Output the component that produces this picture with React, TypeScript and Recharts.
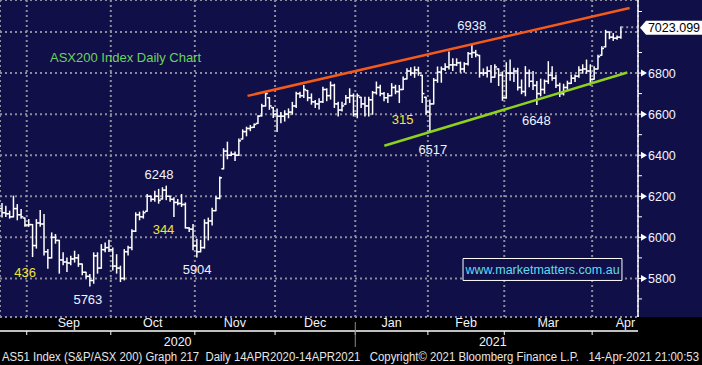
import React from 'react'
import {
  ComposedChart,
  Bar,
  XAxis,
  YAxis,
  CartesianGrid,
  ReferenceLine,
  ReferenceDot,
  ReferenceArea,
} from 'recharts'

// ASX200 daily bars, 21 Aug 2020 - 14 Apr 2021
const dates = [
  '2020-08-21', '2020-08-24', '2020-08-25', '2020-08-26', '2020-08-27', '2020-08-28', '2020-08-31',
  '2020-09-01', '2020-09-02', '2020-09-03', '2020-09-04', '2020-09-07', '2020-09-08', '2020-09-09', '2020-09-10', '2020-09-11',
  '2020-09-14', '2020-09-15', '2020-09-16', '2020-09-17', '2020-09-18', '2020-09-21', '2020-09-22', '2020-09-23', '2020-09-24',
  '2020-09-25', '2020-09-28', '2020-09-29', '2020-09-30',
  '2020-10-01', '2020-10-02', '2020-10-05', '2020-10-06', '2020-10-07', '2020-10-08', '2020-10-09', '2020-10-12', '2020-10-13',
  '2020-10-14', '2020-10-15', '2020-10-16', '2020-10-19', '2020-10-20', '2020-10-21', '2020-10-22', '2020-10-23', '2020-10-26',
  '2020-10-27', '2020-10-28', '2020-10-29', '2020-10-30',
  '2020-11-02', '2020-11-03', '2020-11-04', '2020-11-05', '2020-11-06', '2020-11-09', '2020-11-10', '2020-11-11', '2020-11-12',
  '2020-11-13', '2020-11-16', '2020-11-17', '2020-11-18', '2020-11-19', '2020-11-20', '2020-11-23', '2020-11-24', '2020-11-25',
  '2020-11-26', '2020-11-27', '2020-11-30',
  '2020-12-01', '2020-12-02', '2020-12-03', '2020-12-04', '2020-12-07', '2020-12-08', '2020-12-09', '2020-12-10', '2020-12-11',
  '2020-12-14', '2020-12-15', '2020-12-16', '2020-12-17', '2020-12-18', '2020-12-21', '2020-12-22', '2020-12-23', '2020-12-24',
  '2020-12-29', '2020-12-30', '2020-12-31',
  '2021-01-04', '2021-01-05', '2021-01-06', '2021-01-07', '2021-01-08', '2021-01-11', '2021-01-12', '2021-01-13', '2021-01-14',
  '2021-01-15', '2021-01-18', '2021-01-19', '2021-01-20', '2021-01-21', '2021-01-22', '2021-01-25', '2021-01-27', '2021-01-28',
  '2021-01-29',
  '2021-02-01', '2021-02-02', '2021-02-03', '2021-02-04', '2021-02-05', '2021-02-08', '2021-02-09', '2021-02-10', '2021-02-11',
  '2021-02-12', '2021-02-15', '2021-02-16', '2021-02-17', '2021-02-18', '2021-02-19', '2021-02-22', '2021-02-23', '2021-02-24',
  '2021-02-25', '2021-02-26',
  '2021-03-01', '2021-03-02', '2021-03-03', '2021-03-04', '2021-03-05', '2021-03-08', '2021-03-09', '2021-03-10', '2021-03-11',
  '2021-03-12', '2021-03-15', '2021-03-16', '2021-03-17', '2021-03-18', '2021-03-19', '2021-03-22', '2021-03-23', '2021-03-24',
  '2021-03-25', '2021-03-26', '2021-03-29', '2021-03-30', '2021-03-31',
  '2021-04-01', '2021-04-06', '2021-04-07', '2021-04-08', '2021-04-09', '2021-04-12', '2021-04-13', '2021-04-14',
]

const opens = [
  6140, 6120, 6115, 6100, 6140, 6110, 6094, 6060, 6062, 5960, 6070, 6065, 5930, 5900, 6000, 5985, 5890, 5880, 5875, 5895,
  5900, 5870, 5830, 5810, 5790, 5910, 5850, 5940, 5950,
  5940, 5860, 5850, 5800, 5930, 5950, 6030, 6110, 6100, 6127, 6200, 6185, 6200, 6187, 6230, 6200, 6185, 6170, 6165, 6160,
  6046, 6040,
  5960, 5930, 5950, 6070, 6080, 6130, 6190, 6334, 6420, 6400, 6405, 6400, 6479, 6515, 6530, 6536, 6555, 6592, 6640, 6680, 6632,
  6600, 6590, 6590, 6600, 6610, 6640, 6700, 6690, 6715, 6680, 6660, 6650, 6660, 6720, 6690, 6740, 6650, 6620, 6649, 6680, 6690,
  6600, 6682, 6650, 6640, 6670, 6705, 6730, 6700, 6680, 6690, 6730, 6710, 6720, 6772, 6810, 6800, 6815, 6789, 6682,
  6610, 6650, 6765, 6805, 6820, 6830, 6840, 6840, 6850, 6820, 6845, 6895, 6900, 6886, 6800, 6800, 6810, 6780, 6820, 6790,
  6680, 6800, 6800, 6810, 6730, 6710, 6800, 6760, 6740, 6700, 6720, 6760, 6790, 6775, 6740, 6700, 6730, 6750, 6775, 6785,
  6815, 6820, 6810,
  6770, 6820, 6887, 6928, 7000, 6975, 6970, 6975,
]

const highs = [
  6164, 6151, 6127, 6200, 6159, 6135, 6094, 6086, 6062, 6086, 6130, 6111, 5940, 6021, 6013, 5985, 5924, 5899, 5907, 5932,
  5915, 5870, 5830, 5818, 5924, 5924, 5964, 5972, 5985,
  5948, 5915, 5859, 5940, 5956, 6037, 6119, 6122, 6127, 6208, 6200, 6224, 6233, 6241, 6249, 6200, 6192, 6184, 6208, 6167,
  6046, 6062,
  5990, 5985, 6085, 6093, 6141, 6197, 6294, 6431, 6463, 6415, 6415, 6479, 6523, 6536, 6544, 6552, 6592, 6648, 6705, 6680, 6632,
  6625, 6608, 6616, 6625, 6657, 6706, 6706, 6739, 6715, 6698, 6666, 6674, 6731, 6723, 6756, 6745, 6657, 6657, 6690, 6723, 6698,
  6698, 6682, 6682, 6682, 6710, 6756, 6740, 6705, 6700, 6748, 6740, 6739, 6780, 6821, 6825, 6830, 6828, 6789, 6682,
  6668, 6773, 6829, 6829, 6845, 6902, 6869, 6869, 6853, 6850, 6900, 6938, 6910, 6886, 6820, 6829, 6837, 6840, 6820, 6805,
  6850, 6863, 6823, 6823, 6766, 6831, 6815, 6807, 6758, 6770, 6766, 6855, 6830, 6790, 6750, 6745, 6760, 6790, 6790, 6831,
  6840, 6863, 6840,
  6831, 6887, 6928, 7008, 7000, 6992, 6980, 7024,
]

const lows = [
  6099, 6102, 6094, 6100, 6086, 6094, 6054, 6054, 5907, 5948, 6054, 5915, 5850, 5900, 5972, 5826, 5867, 5834, 5867, 5880,
  5859, 5818, 5802, 5763, 5777, 5826, 5850, 5930, 5932,
  5842, 5826, 5785, 5793, 5915, 5940, 6029, 6086, 6094, 6127, 6176, 6176, 6167, 6187, 6184, 6176, 6102, 6159, 6151, 6046,
  6029, 5940,
  5905, 5930, 5948, 5988, 6061, 6130, 6189, 6334, 6383, 6399, 6375, 6399, 6479, 6495, 6520, 6536, 6555, 6592, 6640, 6624, 6584,
  6516, 6559, 6567, 6583, 6600, 6633, 6682, 6682, 6666, 6649, 6633, 6625, 6657, 6666, 6674, 6633, 6592, 6616, 6649, 6657, 6592,
  6583, 6633, 6592, 6592, 6600, 6698, 6690, 6666, 6657, 6690, 6700, 6657, 6720, 6772, 6790, 6780, 6790, 6657, 6600,
  6517, 6650, 6756, 6756, 6813, 6821, 6813, 6837, 6805, 6805, 6840, 6877, 6880, 6781, 6790, 6781, 6756, 6780, 6740, 6668,
  6678, 6766, 6760, 6718, 6700, 6690, 6734, 6720, 6648, 6690, 6702, 6750, 6766, 6730, 6686, 6694, 6720, 6750, 6760, 6780,
  6800, 6800, 6742,
  6770, 6820, 6887, 6928, 6968, 6960, 6965, 6970,
]

const closes = [
  6120, 6115, 6100, 6140, 6110, 6100, 6060, 6062, 5960, 6070, 6065, 5930, 5900, 6000, 5985, 5890, 5880, 5875, 5895, 5900,
  5870, 5830, 5810, 5790, 5910, 5850, 5940, 5950, 5940,
  5860, 5850, 5800, 5930, 5950, 6030, 6110, 6100, 6120, 6200, 6185, 6200, 6180, 6230, 6200, 6185, 6170, 6165, 6160, 6046,
  6040, 5960,
  5930, 5950, 6070, 6080, 6130, 6190, 6290, 6420, 6400, 6405, 6400, 6470, 6515, 6530, 6535, 6550, 6590, 6640, 6700, 6640, 6600,
  6590, 6590, 6600, 6610, 6640, 6700, 6690, 6720, 6680, 6660, 6650, 6660, 6720, 6690, 6740, 6650, 6620, 6640, 6680, 6690, 6600,
  6690, 6650, 6640, 6670, 6705, 6730, 6700, 6680, 6690, 6730, 6710, 6720, 6770, 6810, 6800, 6815, 6800, 6700, 6610,
  6650, 6765, 6805, 6820, 6830, 6840, 6840, 6850, 6820, 6845, 6895, 6900, 6890, 6800, 6800, 6810, 6780, 6830, 6790, 6680,
  6800, 6800, 6810, 6730, 6710, 6800, 6760, 6740, 6700, 6720, 6760, 6790, 6775, 6740, 6700, 6730, 6750, 6775, 6785, 6815,
  6820, 6810, 6770,
  6820, 6880, 6920, 7000, 6975, 6970, 6975, 7023.099,
]

const lastPrice = 7023.099
const emptySlots = 4 // blank days Bloomberg leaves right of the last bar

// x axis: month boundaries (bar index) and label centres
const monthStarts = [7, 29, 51, 72, 93, 112, 132, 155]
const monthNames = ['Sep', 'Oct', 'Nov', 'Dec', 'Jan', 'Feb', 'Mar', 'Apr']
const monthCentres = [18, 40, 61.5, 82.5, 102.5, 122, 143.5, 163.7]
const yearNames = ['2020', '2021']
const yearCentres = [46.5, 129]
const yearBreak = 93

const priceTicks = [5700, 5800, 5900, 6000, 6100, 6200, 6300, 6400, 6500, 6600, 6700, 6800, 6900, 7000, 7100]
const gridTicks = [5800, 6000, 6200, 6400, 6600, 6800, 7000]
const yDomain = [5612, 7156]

// hand-drawn annotations
const noteTexts = ['6938', '315', '6517', '6648', '6248', '344', '436', '5763', '5904']
const noteX = [123.5, 105.4, 113.3, 140.4, 41.6, 42.8, 6.6, 23.0, 51.6]
const noteY = [7034, 6576, 6426, 6569, 6305, 6038, 5829, 5698, 5843]
const noteColors = ['#eef3ff', '#f2e632', '#eef3ff', '#eef3ff', '#eef3ff', '#f2e632', '#f2e632', '#eef3ff', '#eef3ff']
const titleText = 'ASX200 Index Daily Chart'
const urlText = 'www.marketmatters.com.au'
const footerText =
  'AS51 Index (S&P/ASX 200) Graph 217  Daily 14APR2020-14APR2021   Copyright\u00a9 2021 Bloomberg Finance L.P.   14-Apr-2021 21:00:53'

const resistance = [
  { x: 64.8, y: 6689 },
  { x: 164.8, y: 7117 },
]
const support = [
  { x: 100.6, y: 6446 },
  { x: 164.2, y: 6803 },
]

const FONT = '"Liberation Sans", Arial, sans-serif'
const NAVY = '#100f47'
const TEXT = '#f2f4ff'
const GRID = '#8c8c9a'
const AXIS_W = 64
const SPAN = dates.length + emptySlots

const data = [
  ...dates.map((d, i) => ({ i, d, o: opens[i], h: highs[i], l: lows[i], c: closes[i] })),
  ...Array.from({ length: emptySlots }, (_, k) => ({ i: dates.length + k, d: '', o: null, h: null, l: null, c: null })),
]

const OhlcBar = (props: any) => {
  const { x, y, width, height, payload } = props
  if (!payload || payload.h == null) return <g />
  const span = payload.h - payload.l
  const at = (v: number) => (span > 0 ? y + ((payload.h - v) / span) * height : y)
  const cx = x + width / 2
  return (
    <g stroke="#ffffff" strokeWidth={1.5}>
      <line x1={cx} x2={cx} y1={y - 0.6} y2={y + height + 0.6} />
      <line x1={x - 0.2} x2={cx} y1={at(payload.o)} y2={at(payload.o)} />
      <line x1={cx} x2={x + width + 0.2} y1={at(payload.c)} y2={at(payload.c)} />
    </g>
  )
}

const PriceTick = ({ x, y, payload }: any) => {
  const v = payload.value
  if (v === 7000) return <g />
  if (v % 200 !== 0) {
    return <line x1={x} x2={x + 4} y1={y} y2={y} stroke="#fff" strokeWidth={1} />
  }
  return (
    <g>
      <line x1={x} x2={x + 4} y1={y} y2={y} stroke="#fff" strokeWidth={1} />
      <polygon points={`${x + 3},${y - 3.5} ${x + 9},${y} ${x + 3},${y + 3.5}`} fill="#fff" />
      <text x={x + 10} y={y + 4.5} fill={TEXT} fontSize={12.5} fontFamily={FONT}>
        {v}
      </text>
    </g>
  )
}

const MonthTick = ({ x, y, payload }: any) => {
  const k = monthCentres.indexOf(payload.value)
  return (
    <text x={x} y={y + 10} textAnchor="middle" fill={TEXT} fontSize={12.5} fontFamily={FONT}>
      {monthNames[k]}
    </text>
  )
}

const YearTick = ({ x, y, payload }: any) => {
  if (payload.value === yearBreak) {
    return <line x1={x} x2={x} y1={y - 14} y2={y + 11} stroke="#8a8a8a" strokeWidth={1} />
  }
  const k = yearCentres.indexOf(payload.value)
  return (
    <text x={x} y={y + 10} textAnchor="middle" fill={TEXT} fontSize={12.5} fontFamily={FONT}>
      {yearNames[k]}
    </text>
  )
}

const PriceFlag = ({ viewBox }: any) => {
  const ex = viewBox.x + viewBox.width
  const cy = viewBox.y + 0.5
  return (
    <g>
      <polygon
        points={`${ex + 2},${cy} ${ex + 8},${cy - 7} ${ex + AXIS_W},${cy - 7} ${ex + AXIS_W},${cy + 7} ${ex + 8},${cy + 7}`}
        fill="#ffffff"
      />
      <text x={ex + 36} y={cy + 4.5} textAnchor="middle" fill="#000" fontSize={12.5} fontFamily={FONT}>
        {lastPrice.toFixed(3)}
      </text>
    </g>
  )
}

const noteShape = (text: string, fill: string, anchor: 'middle' | 'start' = 'middle') => (p: any) => (
  <text x={p.cx} y={p.cy + 4.5} textAnchor={anchor} fill={fill} fontSize={13} fontFamily={FONT}>
    {text}
  </text>
)

export default function App() {
  return (
    <div
      style={{
        position: 'absolute',
        left: 0,
        top: 0,
        width: 702,
        height: 365,
        background: `linear-gradient(to bottom, ${NAVY} 0px, ${NAVY} 317px, #000 317px)`,
        fontFamily: FONT,
      }}
    >
      <ComposedChart
        width={702}
        height={365}
        data={data}
        margin={{ top: 0, right: 0, bottom: 13, left: 0 }}
        barCategoryGap={0}
        barGap={0}
      >
        <XAxis
          xAxisId="m"
          dataKey="i"
          type="number"
          domain={[0, SPAN]}
          allowDataOverflow
          ticks={monthStarts}
          interval={0}
          height={5}
          tickSize={4}
          tickFormatter={() => ''}
          axisLine={{ stroke: '#ffffff', strokeWidth: 1.5 }}
          tickLine={{ stroke: '#ffffff' }}
        />
        <XAxis
          xAxisId="lbl"
          dataKey="i"
          type="number"
          domain={[0, SPAN]}
          allowDataOverflow
          ticks={monthCentres}
          interval={0}
          height={14}
          tickSize={0}
          tickMargin={0}
          axisLine={false}
          tickLine={false}
          tick={<MonthTick />}
        />
        <XAxis
          xAxisId="yr"
          dataKey="i"
          type="number"
          domain={[0, SPAN]}
          allowDataOverflow
          ticks={[yearCentres[0], yearBreak, yearCentres[1]]}
          interval={0}
          height={16}
          tickSize={0}
          tickMargin={0}
          axisLine={false}
          tickLine={false}
          tick={<YearTick />}
        />
        <XAxis xAxisId="b" dataKey="i" type="category" height={0} hide />
        <YAxis
          yAxisId="p"
          orientation="right"
          type="number"
          domain={yDomain}
          allowDataOverflow
          ticks={priceTicks}
          interval={0}
          width={AXIS_W}
          tickSize={0}
          tickMargin={0}
          axisLine={{ stroke: '#ffffff', strokeWidth: 1.5 }}
          tickLine={false}
          tick={<PriceTick />}
        />
        <YAxis yAxisId="g" type="number" domain={yDomain} allowDataOverflow ticks={gridTicks} width={0} hide />
        <CartesianGrid
          xAxisId="m"
          yAxisId="g"
          stroke={GRID}
          strokeWidth={2}
          strokeDasharray="2 3"
        />
        <ReferenceLine
          xAxisId="m"
          yAxisId="p"
          segment={resistance}
          stroke="#f45a1a"
          strokeWidth={2.5}
        />
        <ReferenceLine
          xAxisId="m"
          yAxisId="p"
          segment={support}
          stroke="#8fd21e"
          strokeWidth={2.5}
        />
        <Bar
          xAxisId="b"
          yAxisId="p"
          dataKey={(e: any) => (e.h == null ? null : [e.l, e.h])}
          shape={<OhlcBar />}
          isAnimationActive={false}
        />
        <ReferenceLine
          xAxisId="m"
          yAxisId="p"
          segment={[
            { x: dates.length - 0.4, y: lastPrice },
            { x: SPAN, y: lastPrice },
          ]}
          stroke={GRID}
          strokeWidth={2}
          strokeDasharray="2 3"
          label={<PriceFlag />}
        />
        <ReferenceArea
          xAxisId="m"
          yAxisId="p"
          x1={121.2}
          x2={162.8}
          y1={5790}
          y2={5897}
          fill={NAVY}
          fillOpacity={1}
          stroke="#ffffff"
          strokeWidth={1}
          label={{ value: urlText, fill: '#5fdcf2', fontSize: 12.5, fontFamily: FONT, position: 'center' }}
        />
        <ReferenceDot
          xAxisId="m"
          yAxisId="p"
          x={13.1}
          y={6874}
          r={0}
          shape={noteShape(titleText, '#6dd25c', 'start')}
        />
        {noteTexts.map((t, k) => (
          <ReferenceDot
            key={t}
            xAxisId="m"
            yAxisId="p"
            x={noteX[k]}
            y={noteY[k]}
            r={0}
            shape={noteShape(t, noteColors[k])}
          />
        ))}
      </ComposedChart>
      <svg width={702} height={365} style={{ position: 'absolute', left: 0, top: 0, pointerEvents: 'none' }}>
        <text
          x={2}
          y={361}
          fill="#e6e6e6"
          fontSize={12}
          fontFamily={FONT}
          textLength={697}
          lengthAdjust="spacingAndGlyphs"
          style={{ whiteSpace: 'pre' }}
        >
          {footerText}
        </text>
      </svg>
    </div>
  )
}
